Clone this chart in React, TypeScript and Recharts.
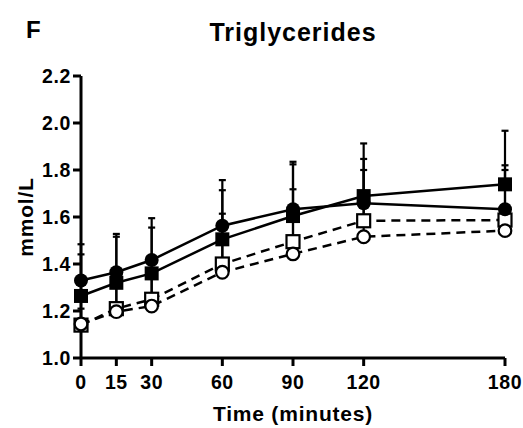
import { LineChart, Line, XAxis, YAxis, ErrorBar } from 'recharts';

// time points (minutes)
const times = [0, 15, 30, 60, 90, 120, 180];
const xTicks = [0, 15, 30, 60, 90, 120, 180];
const yTicks = [1.0, 1.2, 1.4, 1.6, 1.8, 2.0, 2.2];

// filled circle, solid line
const fcMean = [1.33, 1.365, 1.417, 1.563, 1.633, 1.658, 1.633];
const fcErr = [0.154, 0.163, 0.178, 0.194, 0.202, 0.189, 0.187];
// filled square, solid line
const fsMean = [1.264, 1.32, 1.36, 1.505, 1.604, 1.689, 1.739];
const fsErr = [0.177, 0.196, 0.195, 0.209, 0.22, 0.224, 0.228];
// open square, dashed line
const osMean = [1.14, 1.21, 1.25, 1.40, 1.495, 1.584, 1.587];
const osErr = [0.07, 0.1, 0.1, 0.214, 0.223, 0.216, 0.213];
// open circle, dashed line
const ocMean = [1.145, 1.197, 1.221, 1.365, 1.443, 1.516, 1.542];
const ocErr = [0.12, 0.12, 0.14, 0.15, 0.17, 0.16, 0.09];

const rows = times.map((t, i) => ({
  t,
  fc: fcMean[i],
  fcE: [0, fcErr[i]],
  fs: fsMean[i],
  fsE: [0, fsErr[i]],
  os: osMean[i],
  osE: [0, osErr[i]],
  oc: ocMean[i],
  ocE: [0, ocErr[i]],
}));

const FONT = '"Liberation Sans", Arial, sans-serif';
const tickStyle = { fontSize: 19.5, fontWeight: 700, fill: '#000', fontFamily: FONT, letterSpacing: '0.6px' };

const FilledSquare = (p: any) => (
  <rect key={`fs-${p.index}`} x={p.cx - 7} y={p.cy - 7} width={14} height={14} fill="#000" />
);
const OpenSquare = (p: any) => (
  <rect key={`os-${p.index}`} x={p.cx - 6.5} y={p.cy - 6.5} width={13} height={13} fill="#fff" stroke="#000" strokeWidth={2.2} />
);
const OpenCircle = (p: any) => (
  <circle key={`oc-${p.index}`} cx={p.cx} cy={p.cy} r={6.3} fill="#fff" stroke="#000" strokeWidth={2.2} />
);

export default function App() {
  return (
    <div style={{ position: 'relative', width: 523, height: 428, background: '#fff' }}>
      <style>{'body{margin:0}'}</style>
      <LineChart width={523} height={428} data={rows} margin={{ top: 76, right: 18, bottom: 0, left: 0 }}>
        <XAxis
          dataKey="t"
          type="number"
          domain={[0, 180]}
          ticks={xTicks}
          height={70}
          tickSize={8}
          tickMargin={9}
          axisLine={{ stroke: '#000', strokeWidth: 3 }}
          tickLine={{ stroke: '#000', strokeWidth: 3 }}
          tick={tickStyle}
        />
        <YAxis
          type="number"
          domain={[1.0, 2.2]}
          ticks={yTicks}
          width={81}
          tickSize={8}
          tickMargin={2}
          tickFormatter={(v: number) => v.toFixed(1)}
          axisLine={{ stroke: '#000', strokeWidth: 3 }}
          tickLine={{ stroke: '#000', strokeWidth: 3 }}
          tick={tickStyle}
        />
        <Line dataKey="os" stroke="#000" strokeWidth={2.5} strokeDasharray="9 6" dot={OpenSquare} isAnimationActive={false}>
          <ErrorBar dataKey="osE" direction="y" width={3.5} stroke="#000" strokeWidth={2.2} />
        </Line>
        <Line dataKey="oc" stroke="#000" strokeWidth={2.5} strokeDasharray="9 6" dot={OpenCircle} isAnimationActive={false}>
          <ErrorBar dataKey="ocE" direction="y" width={3.5} stroke="#000" strokeWidth={2.2} />
        </Line>
        <Line dataKey="fs" stroke="#000" strokeWidth={2.5} dot={FilledSquare} isAnimationActive={false}>
          <ErrorBar dataKey="fsE" direction="y" width={3.5} stroke="#000" strokeWidth={2.2} />
        </Line>
        <Line dataKey="fc" stroke="#000" strokeWidth={2.5} dot={{ r: 7, fill: '#000', stroke: 'none' }} isAnimationActive={false}>
          <ErrorBar dataKey="fcE" direction="y" width={3.5} stroke="#000" strokeWidth={2.2} />
        </Line>
      </LineChart>
      <svg width={523} height={428} style={{ position: 'absolute', left: 0, top: 0, pointerEvents: 'none' }}>
        <g fontFamily={FONT} fontWeight={700} fill="#000">
          <text x={26} y={38} fontSize={24}>F</text>
          <text x={293} y={41} fontSize={25} textAnchor="middle" letterSpacing={1}>Triglycerides</text>
          <text x={-217} y={33} fontSize={21} textAnchor="middle" letterSpacing={0.8} transform="rotate(-90)">mmol/L</text>
          <text x={293} y={421} fontSize={21} textAnchor="middle" letterSpacing={0.8}>Time (minutes)</text>
        </g>
      </svg>
    </div>
  );
}
